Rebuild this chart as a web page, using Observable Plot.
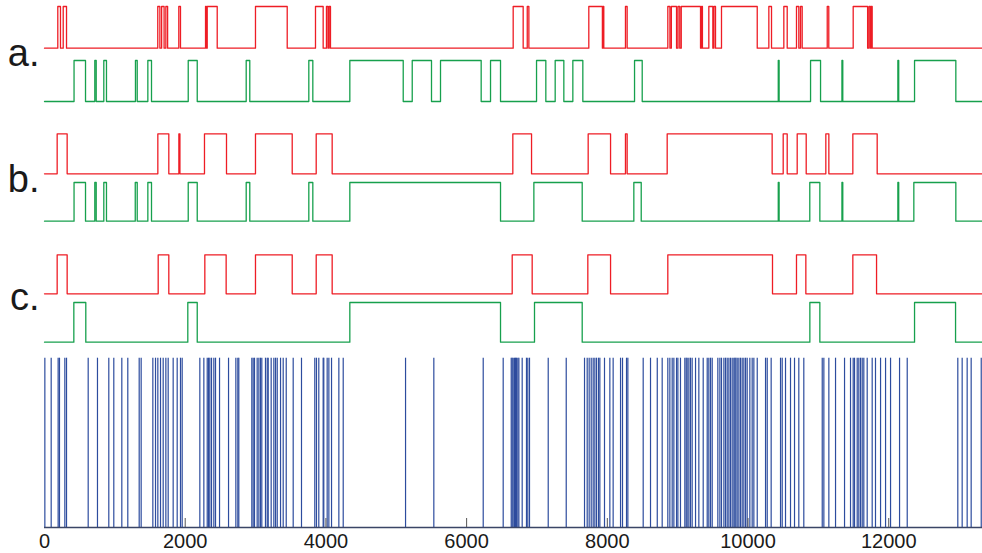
<!DOCTYPE html>
<html>
<head>
<meta charset="utf-8">
<script src="https://cdn.jsdelivr.net/npm/d3@7"></script>
<script src="https://cdn.jsdelivr.net/npm/@observablehq/plot@0.6"></script>
<style>
  html, body { margin: 0; padding: 0; background: #fff; }
  #chart svg { display: block; }
</style>
</head>
<body>
<div id="chart"></div>
<script>
// ---- data ----
const xMax = 13333;
const tickValues = [0, 2000, 4000, 6000, 8000, 10000, 12000];
const panelLabels = ["a.", "b.", "c."];

// high-state intervals [start, end]
const redA = [[189,227],[266,313],[1610,1640],[1665,1700],[1725,1750],[1909,1933],[2289,2300],[2313,2455],[2999,3450],[3852,3961],[4008,4030],[4045,4065],[6662,6804],[6862,6885],[7737,7930],[7940,7950],[8258,8282],[8860,8890],[8910,8984],[9005,9030],[9051,9325],[9340,9352],[9443,9500],[9515,9538],[9623,10131],[10296,10334],[10509,10557],[10689,10722],[10746,10770],[11126,11148],[11495,11700],[11720,11740],[11752,11765]];
const greenA = [[420,583],[715,735],[843,881],[1293,1318],[1469,1521],[2043,2171],[2867,2918],[3757,3814],[4340,5099],[5227,5501],[5629,6207],[6340,6482],[6994,7126],[7259,7382],[7510,7652],[8387,8496],[10430,10442],[10889,11031],[11335,11347],[12130,12142],[12367,12954]];
const redB = [[180,322],[1611,1767],[1910,1925],[2274,2587],[2999,3521],[3862,4089],[6657,6923],[7728,8046],[8258,8282],[8851,10343],[10500,10557],[10699,10827],[11106,11149],[11490,11836]];
const greenB = [[420,583],[715,735],[843,881],[1290,1318],[1469,1521],[2043,2171],[2867,2918],[3757,3814],[4340,6482],[6956,7643],[8377,8482],[10430,10442],[10878,11021],[11335,11347],[12130,12142],[12357,12954]];
const redC = [[180,322],[1616,1767],[2279,2582],[2999,3521],[3862,4089],[6648,6932],[7723,8046],[8860,10348],[10689,10822],[11490,11827]];
const greenC = [[417,587],[2037,2171],[4340,6482],[6965,7643],[10879,11021],[12367,12950]];

// spike times (blue)
const spikes = [5,95,194,213,289,313,621,753,914,985,1099,1184,1346,1374,1540,1578,1611,1649,1687,1725,1758,1829,1886,1933,1957,2208,2265,2313,2332,2350,2374,2407,2431,2488,2616,2720,2748,2762,2947,2966,2985,3023,3047,3070,3089,3141,3166,3180,3222,3260,3284,3308,3355,3393,3436,3535,3653,3842,3866,3899,3970,4042,
  3961,4018,4080,4184,4246,5132,5534,6236,6520,6634,6648,6662,6681,6695,6709,6728,6743,6790,6851,6870,6894,7160,7416,7676,7714,7742,7771,7799,7823,7847,7875,7894,7960,8036,8083,8188,8216,8273,8292,8510,
  8614,8710,8780,8860,8889,8922,8946,8984,9003,9040,9102,9121,9135,9159,9182,9206,9254,9301,9363,9420,9443,9467,9491,9571,9600,9623,9657,9680,9704,9728,9751,9775,9799,9813,9827,9846,9870,9893,9917,9941,9965,9988,10026,10059,10083,10131,10249,10273,10329,10462,10486,10533,10604,10661,10722,10793,11055,11078,11149,11244,11372,11457,11495,11514,11552,11575,11599,11623,11646,11694,11765,11812,11884,11955,12026,12154,12263,12982,13044,13115,13172,13315];

// ---- layout (vertical placement of each track, in y-scale units above the baseline) ----
const RED = "#ee1d25", GREEN = "#17a04d", BLUE = "#2d4c9e";
const tracks = [
  {iv: redA,   low: 479.3, high: 521,   color: RED},
  {iv: greenA, low: 426,   high: 467,   color: GREEN},
  {iv: redB,   low: 353.7, high: 393.7, color: RED},
  {iv: greenB, low: 306.3, high: 345,   color: GREEN},
  {iv: redC,   low: 233.7, high: 272.7, color: RED},
  {iv: greenC, low: 185.3, high: 225,   color: GREEN}
];
const labelY = [474, 347.3, 230];
const spikeTop = 169.3;

function stepPoints(iv) {
  const pts = [{x: 0, s: 0}];
  for (const [a, b] of iv) { pts.push({x: a, s: 1}); pts.push({x: b, s: 0}); }
  pts.push({x: xMax, s: 0});
  return pts;
}

const marks = [];
for (const t of tracks) {
  marks.push(Plot.line(stepPoints(t.iv), {
    x: "x",
    y: d => t.low + d.s * (t.high - t.low),
    curve: "step-after",
    stroke: t.color,
    strokeWidth: 1.3
  }));
}
marks.push(Plot.ruleX(spikes, {x: d => d, y1: 0, y2: spikeTop, stroke: BLUE, strokeWidth: 1.2}));
marks.push(Plot.ruleY([0], {stroke: "#3a4566", strokeWidth: 1.6}));
marks.push(Plot.ruleX(tickValues.slice(1), {x: d => d, y1: 0, y2: 9, stroke: "#555", strokeWidth: 1}));
marks.push(Plot.axisX({ticks: tickValues, tickSize: 0, tickPadding: 6, tickFormat: d => String(d),
  label: null, fontSize: 20, fill: "#1a1a1a"}));
marks.push(Plot.text(panelLabels, {
  x: () => 0, y: (d, i) => labelY[i], text: d => d,
  textAnchor: "end", lineAnchor: "middle", dx: -5, fontSize: 38, fill: "#1a1a1a"
}));

const chart = Plot.plot({
  width: 982,
  height: 553,
  marginLeft: 44,
  marginRight: 0,
  marginTop: 0,
  marginBottom: 26,
  style: {fontFamily: "'Liberation Sans', Arial, sans-serif", background: "#fff", overflow: "visible"},
  x: {domain: [0, xMax], axis: null, label: null},
  y: {domain: [0, 527], axis: null},
  marks
});
document.getElementById("chart").appendChild(chart);
</script>
</body>
</html>
